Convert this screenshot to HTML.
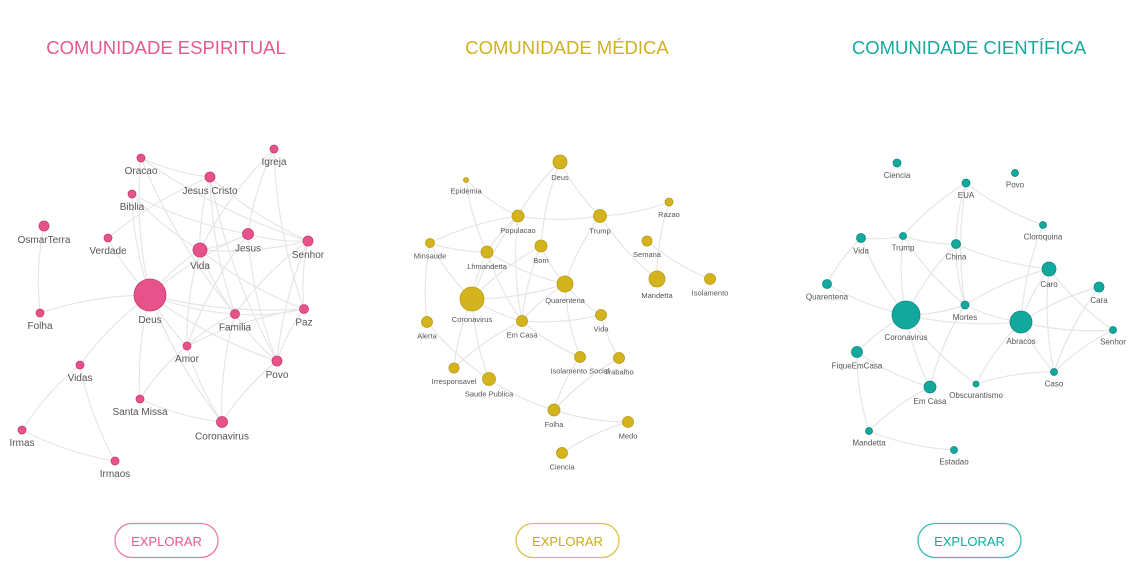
<!DOCTYPE html>
<html><head><meta charset="utf-8">
<style>
html,body{margin:0;padding:0;background:#fff;width:1143px;height:587px;overflow:hidden;font-family:"Liberation Sans","DejaVu Sans",sans-serif}
svg{position:absolute;left:0;top:0}
</style></head>
<body>
<svg id="s" width="1143" height="587" viewBox="0 0 1143 587" xmlns="http://www.w3.org/2000/svg">
<text x="166" y="54" text-anchor="middle" font-size="18.5" fill="#e9588c" font-family="Liberation Sans,sans-serif">COMUNIDADE ESPIRITUAL</text>
<text x="567" y="54" text-anchor="middle" font-size="18.5" fill="#d2b11e" font-family="Liberation Sans,sans-serif">COMUNIDADE MÉDICA</text>
<text x="969" y="54" text-anchor="middle" font-size="18.5" fill="#16a99f" font-family="Liberation Sans,sans-serif">COMUNIDADE CIENTÍFICA</text>
<rect x="115" y="523.5" width="103" height="34" rx="17" fill="none" stroke="#f07ba3" stroke-width="1.3"/>
<text x="166.5" y="546" text-anchor="middle" font-size="13" fill="#e9588c">EXPLORAR</text>
<rect x="516" y="523.5" width="103" height="34" rx="17" fill="none" stroke="#dcc04a" stroke-width="1.3"/>
<text x="567.5" y="546" text-anchor="middle" font-size="13" fill="#c9a91a">EXPLORAR</text>
<rect x="918" y="523.5" width="103" height="34" rx="17" fill="none" stroke="#3ebab1" stroke-width="1.3"/>
<text x="969.5" y="546" text-anchor="middle" font-size="13" fill="#16a99f">EXPLORAR</text>
<g id="g"></g>
</svg>
<script>
var nets=[
{c:"#e8528a",st:"#c93a6f",fs:10,off:14,n:{
Oracao:[141,158,4],Igreja:[274,149,4],"Jesus Cristo":[210,177,5],Biblia:[132,194,4],OsmarTerra:[44,226,5],Verdade:[108,238,4],Vida:[200,250,7],Jesus:[248,234,5.5],Senhor:[308,241,5],Deus:[150,295,16],Folha:[40,313,4],Familia:[235,314,4.5],Paz:[304,309,4.5],Amor:[187,346,4],Povo:[277,361,5],Vidas:[80,365,4],"Santa Missa":[140,399,4],Coronavirus:[222,422,5.5],Irmas:[22,430,4],Irmaos:[115,461,4]},
e:[["Oracao","Deus"],["Oracao","Jesus Cristo"],["Oracao","Familia"],["Oracao","Senhor"],["Igreja","Vida"],["Igreja","Jesus"],["Igreja","Paz"],["Jesus Cristo","Vida"],["Jesus Cristo","Verdade"],["Jesus Cristo","Familia"],["Jesus Cristo","Senhor"],["Jesus Cristo","Povo"],["Biblia","Deus"],["Biblia","Jesus"],["Biblia","Vida"],["OsmarTerra","Folha"],["Verdade","Deus"],["Vida","Deus"],["Vida","Jesus"],["Vida","Senhor"],["Vida","Amor"],["Vida","Familia"],["Vida","Paz"],["Jesus","Senhor"],["Jesus","Deus"],["Jesus","Povo"],["Jesus","Amor"],["Senhor","Familia"],["Senhor","Paz"],["Deus","Folha"],["Deus","Familia"],["Deus","Paz"],["Deus","Amor"],["Deus","Povo"],["Deus","Santa Missa"],["Deus","Coronavirus"],["Deus","Vidas"],["Familia","Paz"],["Familia","Povo"],["Familia","Coronavirus"],["Familia","Amor"],["Paz","Povo"],["Paz","Amor"],["Amor","Santa Missa"],["Amor","Coronavirus"],["Povo","Coronavirus"],["Santa Missa","Coronavirus"],["Vidas","Irmas"],["Vidas","Irmaos"],["Irmas","Irmaos"],["Senhor","Povo"]]},
{c:"#d4b41e",st:"#b89a10",fs:7.5,off:13,n:{
Deus:[560,162,7],Epidemia:[466,180,2.5],Razao:[669,202,4],Populacao:[518,216,6],Trump:[600,216,6.5],Minsaude:[430,243,4.5],Lhmandetta:[487,252,6],Bom:[541,246,6],Semana:[647,241,5],Quarentena:[565,284,8],Mandetta:[657,279,8],Isolamento:[710,279,5.5],Coronavirus:[472,299,12],Alerta:[427,322,5.5],"Em Casa":[522,321,5.5],Vida:[601,315,5.5],"Isolamento Social":[580,357,5.5],Trabalho:[619,358,5.5],Irresponsavel:[454,368,5],"Saude Publica":[489,379,6.5],Folha:[554,410,6],Medo:[628,422,5.5],Ciencia:[562,453,5.5]},
e:[["Deus","Populacao"],["Deus","Trump"],["Deus","Bom"],["Epidemia","Populacao"],["Epidemia","Lhmandetta"],["Populacao","Trump"],["Populacao","Minsaude"],["Populacao","Lhmandetta"],["Populacao","Coronavirus"],["Populacao","Em Casa"],["Trump","Razao"],["Trump","Quarentena"],["Trump","Mandetta"],["Razao","Mandetta"],["Semana","Isolamento"],["Minsaude","Lhmandetta"],["Minsaude","Coronavirus"],["Minsaude","Alerta"],["Lhmandetta","Coronavirus"],["Lhmandetta","Quarentena"],["Lhmandetta","Em Casa"],["Bom","Coronavirus"],["Bom","Em Casa"],["Bom","Quarentena"],["Coronavirus","Quarentena"],["Coronavirus","Em Casa"],["Coronavirus","Irresponsavel"],["Coronavirus","Saude Publica"],["Quarentena","Em Casa"],["Quarentena","Vida"],["Quarentena","Isolamento Social"],["Em Casa","Vida"],["Em Casa","Isolamento Social"],["Em Casa","Irresponsavel"],["Alerta","Saude Publica"],["Vida","Trabalho"],["Isolamento Social","Folha"],["Trabalho","Folha"],["Saude Publica","Folha"],["Folha","Medo"],["Medo","Ciencia"]]},
{c:"#12a89e",st:"#0b8b82",fs:8,off:13,n:{
Ciencia:[897,163,4],Povo:[1015,173,3.5],EUA:[966,183,4],Cloroquina:[1043,225,3.5],Vida:[861,238,4.5],Trump:[903,236,3.5],China:[956,244,4.5],Caro:[1049,269,7],Quarentena:[827,284,4.5],Cara:[1099,287,5],Coronavirus:[906,315,14],Mortes:[965,305,4],Abracos:[1021,322,11],Senhor:[1113,330,3.5],FiqueEmCasa:[857,352,5.5],Caso:[1054,372,3.5],"Em Casa":[930,387,6],Obscurantismo:[976,384,3],Mandetta:[869,431,3.5],Estadao:[954,450,3.5]},
e:[["EUA","Trump"],["EUA","China"],["EUA","Mortes"],["EUA","Cloroquina"],["Cloroquina","Abracos"],["Vida","Trump"],["Vida","Coronavirus"],["Vida","Quarentena"],["Trump","China"],["Trump","Coronavirus"],["Trump","Mortes"],["China","Coronavirus"],["China","Caro"],["China","Mortes"],["Caro","Abracos"],["Caro","Caso"],["Caro","Senhor"],["Caro","Mortes"],["Cara","Abracos"],["Cara","Caso"],["Quarentena","Coronavirus"],["Coronavirus","Mortes"],["Coronavirus","Abracos"],["Coronavirus","FiqueEmCasa"],["Coronavirus","Em Casa"],["Coronavirus","Obscurantismo"],["Mortes","Abracos"],["Mortes","Em Casa"],["Abracos","Senhor"],["Abracos","Caso"],["Abracos","Obscurantismo"],["Senhor","Caso"],["Caso","Obscurantismo"],["FiqueEmCasa","Em Casa"],["FiqueEmCasa","Mandetta"],["Em Casa","Mandetta"],["Mandetta","Estadao"]]}
];
var g=document.getElementById("g"),h="";
nets.forEach(function(N){
 N.e.forEach(function(e){var a=N.n[e[0]],b=N.n[e[1]];if(!a||!b)return;
  var mx=(a[0]+b[0])/2,my=(a[1]+b[1])/2,dx=b[0]-a[0],dy=b[1]-a[1];
  var cx=mx-dy*0.08,cy=my+dx*0.08;
  h+='<path d="M'+a[0]+' '+a[1]+'Q'+cx+' '+cy+' '+b[0]+' '+b[1]+'" fill="none" stroke="#e6e6e6" stroke-width="1.2"/>';});
});
nets.forEach(function(N){
 for(var k in N.n){var p=N.n[k];
  h+='<circle cx="'+p[0]+'" cy="'+p[1]+'" r="'+p[2]+'" fill="'+N.c+'" stroke="'+N.st+'" stroke-width="0.8"/>';
  h+='<text x="'+p[0]+'" y="'+(p[1]+p[2]+N.off-2)+'" text-anchor="middle" font-size="'+N.fs+'" fill="#555" font-family="Liberation Sans,sans-serif">'+k+'</text>';}
});
g.innerHTML=h;
</script>
</body></html>
